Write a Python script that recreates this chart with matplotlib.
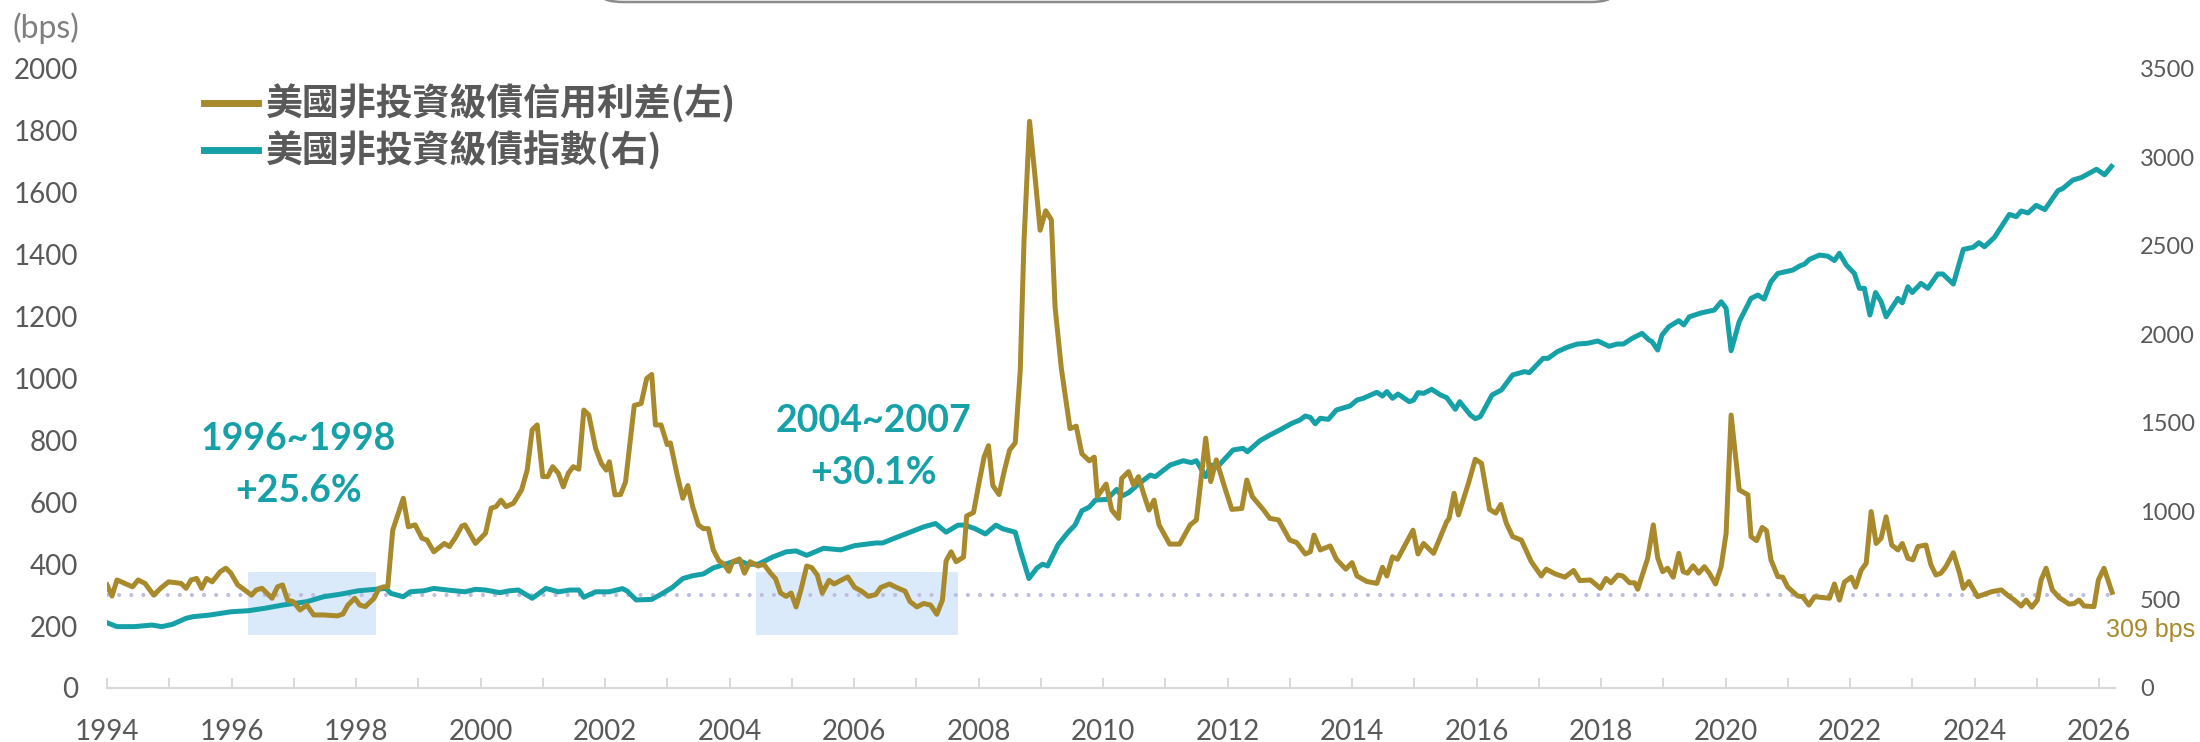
import numpy as np
import matplotlib

matplotlib.use("Agg")
import matplotlib.pyplot as plt
from matplotlib.patches import Rectangle, FancyBboxPatch

# --- data (decimal year, value) ---
spread_t = [
    1994.00, 1994.08, 1994.16, 1994.41, 1994.50, 1994.61, 1994.75, 1994.86, 1994.99, 1995.19,
    1995.27, 1995.35, 1995.44, 1995.52, 1995.60, 1995.69, 1995.82, 1995.91, 1995.99, 1996.10,
    1996.21, 1996.32, 1996.40, 1996.49, 1996.65, 1996.74, 1996.82, 1996.90, 1996.99, 1997.10,
    1997.21, 1997.32, 1997.48, 1997.70, 1997.79, 1997.87, 1997.98, 1998.06, 1998.15, 1998.29,
    1998.37, 1998.45, 1998.51, 1998.59, 1998.76, 1998.84, 1998.95, 1999.06, 1999.14, 1999.25,
    1999.42, 1999.50, 1999.59, 1999.70, 1999.75, 1999.92, 2000.08, 2000.17, 2000.25, 2000.33,
    2000.41, 2000.53, 2000.66, 2000.75, 2000.83, 2000.91, 2001.00, 2001.08, 2001.16, 2001.25,
    2001.33, 2001.41, 2001.49, 2001.58, 2001.66, 2001.74, 2001.85, 2001.94, 2002.02, 2002.07,
    2002.16, 2002.25, 2002.33, 2002.47, 2002.58, 2002.67, 2002.75, 2002.81, 2002.90, 2003.00,
    2003.05, 2003.16, 2003.25, 2003.33, 2003.41, 2003.50, 2003.58, 2003.66, 2003.74, 2003.83,
    2003.91, 2003.99, 2004.05, 2004.16, 2004.24, 2004.33, 2004.46, 2004.55, 2004.66, 2004.74,
    2004.82, 2004.91, 2004.99, 2005.07, 2005.15, 2005.24, 2005.32, 2005.41, 2005.49, 2005.60,
    2005.68, 2005.79, 2005.90, 2006.01, 2006.12, 2006.23, 2006.35, 2006.43, 2006.57, 2006.68,
    2006.82, 2006.90, 2007.01, 2007.12, 2007.23, 2007.33, 2007.42, 2007.48, 2007.56, 2007.64,
    2007.76, 2007.81, 2007.92, 2008.00, 2008.09, 2008.16, 2008.23, 2008.33, 2008.42, 2008.50,
    2008.59, 2008.67, 2008.73, 2008.82, 2008.90, 2008.99, 2009.08, 2009.17, 2009.23, 2009.33,
    2009.47, 2009.57, 2009.66, 2009.78, 2009.86, 2009.91, 2010.05, 2010.14, 2010.25, 2010.30,
    2010.41, 2010.49, 2010.57, 2010.65, 2010.74, 2010.82, 2010.90, 2011.07, 2011.23, 2011.40,
    2011.50, 2011.65, 2011.73, 2011.82, 2011.96, 2012.07, 2012.23, 2012.31, 2012.40, 2012.58,
    2012.68, 2012.82, 2013.00, 2013.11, 2013.25, 2013.33, 2013.39, 2013.49, 2013.65, 2013.75,
    2013.90, 2014.00, 2014.08, 2014.24, 2014.40, 2014.49, 2014.56, 2014.65, 2014.73, 2014.98,
    2015.06, 2015.15, 2015.31, 2015.52, 2015.56, 2015.64, 2015.71, 2015.87, 2015.98, 2016.08,
    2016.21, 2016.31, 2016.39, 2016.48, 2016.58, 2016.72, 2016.88, 2017.04, 2017.12, 2017.26,
    2017.42, 2017.56, 2017.66, 2017.83, 2017.99, 2018.08, 2018.16, 2018.27, 2018.35, 2018.46,
    2018.54, 2018.59, 2018.75, 2018.84, 2018.91, 2018.99, 2019.07, 2019.16, 2019.25, 2019.32,
    2019.39, 2019.48, 2019.57, 2019.66, 2019.74, 2019.84, 2019.93, 2020.01, 2020.09, 2020.22,
    2020.36, 2020.41, 2020.50, 2020.59, 2020.66, 2020.73, 2020.84, 2020.92, 2021.00, 2021.16,
    2021.24, 2021.34, 2021.43, 2021.67, 2021.75, 2021.83, 2021.91, 2022.02, 2022.09, 2022.18,
    2022.26, 2022.34, 2022.42, 2022.50, 2022.58, 2022.67, 2022.77, 2022.84, 2022.93, 2023.01,
    2023.09, 2023.22, 2023.30, 2023.38, 2023.46, 2023.54, 2023.66, 2023.76, 2023.82, 2023.91,
    2024.05, 2024.27, 2024.43, 2024.53, 2024.64, 2024.75, 2024.83, 2024.92, 2025.01, 2025.07,
    2025.15, 2025.25, 2025.36, 2025.52, 2025.60, 2025.68, 2025.76, 2025.92, 2025.99, 2026.08,
    2026.21,
]
spread_v = [
    333, 297, 349, 327, 349, 338, 300, 322, 343, 338,
    322, 349, 354, 322, 354, 343, 376, 387, 371, 333,
    317, 300, 317, 322, 290, 327, 333, 284, 279, 252,
    268, 236, 236, 233, 239, 268, 290, 268, 263, 290,
    322, 327, 327, 510, 613, 521, 527, 484, 478, 440,
    467, 457, 484, 523, 527, 467, 500, 581, 586, 607,
    586, 597, 640, 704, 834, 850, 683, 683, 715, 694,
    650, 694, 715, 707, 898, 882, 774, 726, 704, 731,
    624, 625, 666, 913, 919, 1000, 1013, 850, 850, 786,
    792, 688, 613, 654, 585, 527, 515, 515, 446, 411,
    400, 377, 408, 417, 371, 408, 394, 400, 371, 353,
    307, 296, 307, 262, 319, 394, 389, 365, 307, 348,
    336, 348, 359, 325, 313, 296, 302, 325, 336, 325,
    313, 279, 262, 273, 268, 238, 284, 411, 440, 408,
    423, 556, 567, 654, 746, 783, 654, 625, 706, 769,
    792, 1023, 1438, 1831, 1669, 1479, 1542, 1513, 1231, 1034,
    838, 846, 757, 734, 746, 619, 659, 575, 548, 677,
    699, 656, 683, 629, 575, 607, 527, 465, 465, 527,
    543, 807, 667, 737, 645, 577, 580, 672, 618, 575,
    548, 543, 478, 470, 433, 440, 494, 446, 459, 416,
    384, 405, 362, 344, 338, 390, 362, 424, 416, 510,
    433, 467, 435, 537, 548, 629, 559, 661, 739, 726,
    577, 565, 593, 532, 489, 478, 408, 362, 384, 369,
    358, 380, 347, 349, 322, 354, 340, 365, 362, 340,
    340, 319, 419, 527, 421, 376, 387, 358, 435, 376,
    371, 395, 371, 392, 371, 336, 392, 500, 882, 640,
    624, 489, 476, 519, 508, 414, 360, 358, 326, 297,
    295, 268, 295, 290, 336, 284, 342, 358, 326, 381,
    403, 570, 467, 484, 553, 462, 446, 467, 419, 414,
    457, 462, 398, 365, 371, 392, 437, 371, 322, 344,
    295, 311, 317, 300, 284, 265, 284, 261, 284, 349,
    387, 317, 292, 271, 273, 284, 265, 263, 349, 387,
    309,
]

index_t = [
    1994.00, 1994.16, 1994.44, 1994.72, 1994.88, 1995.05, 1995.27, 1995.38, 1995.66, 1995.99,
    1996.27, 1996.54, 1996.82, 1997.21, 1997.48, 1997.76, 1998.04, 1998.31, 1998.48, 1998.56,
    1998.76, 1998.87, 1999.09, 1999.25, 1999.47, 1999.75, 1999.92, 2000.08, 2000.31, 2000.47,
    2000.61, 2000.83, 2001.05, 2001.25, 2001.44, 2001.58, 2001.66, 2001.85, 2002.07, 2002.28,
    2002.36, 2002.50, 2002.75, 2002.89, 2003.08, 2003.25, 2003.41, 2003.58, 2003.74, 2004.02,
    2004.16, 2004.30, 2004.46, 2004.69, 2004.91, 2005.07, 2005.24, 2005.51, 2005.79, 2006.01,
    2006.35, 2006.46, 2006.68, 2006.90, 2007.12, 2007.31, 2007.48, 2007.67, 2007.78, 2007.95,
    2008.11, 2008.28, 2008.39, 2008.59, 2008.67, 2008.81, 2008.94, 2009.03, 2009.11, 2009.28,
    2009.44, 2009.55, 2009.66, 2009.78, 2009.88, 2010.06, 2010.22, 2010.30, 2010.41, 2010.57,
    2010.76, 2010.84, 2011.08, 2011.29, 2011.42, 2011.50, 2011.65, 2011.74, 2011.83, 2012.09,
    2012.25, 2012.32, 2012.52, 2012.68, 2012.84, 2013.03, 2013.16, 2013.25, 2013.33, 2013.41,
    2013.49, 2013.62, 2013.75, 2013.97, 2014.08, 2014.18, 2014.40, 2014.49, 2014.56, 2014.65,
    2014.74, 2014.92, 2014.99, 2015.06, 2015.15, 2015.28, 2015.42, 2015.52, 2015.66, 2015.73,
    2015.90, 2015.98, 2016.06, 2016.25, 2016.40, 2016.58, 2016.77, 2016.85, 2017.07, 2017.15,
    2017.30, 2017.46, 2017.62, 2017.78, 2017.95, 2018.13, 2018.26, 2018.36, 2018.50, 2018.66,
    2018.77, 2018.82, 2018.91, 2018.98, 2019.09, 2019.25, 2019.33, 2019.42, 2019.61, 2019.82,
    2019.93, 2020.01, 2020.09, 2020.22, 2020.41, 2020.52, 2020.62, 2020.73, 2020.84, 2021.08,
    2021.19, 2021.27, 2021.35, 2021.51, 2021.64, 2021.75, 2021.83, 2021.94, 2022.07, 2022.15,
    2022.23, 2022.32, 2022.41, 2022.50, 2022.58, 2022.77, 2022.84, 2022.93, 2023.00, 2023.14,
    2023.25, 2023.41, 2023.49, 2023.66, 2023.82, 2023.98, 2024.07, 2024.16, 2024.32, 2024.56,
    2024.67, 2024.75, 2024.86, 2024.99, 2025.13, 2025.34, 2025.42, 2025.58, 2025.72, 2025.96,
    2026.09, 2026.20,
]
index_v = [
    369, 347, 347, 356, 347, 360, 394, 403, 413, 431,
    437, 451, 469, 488, 516, 531, 550, 558, 563, 535,
    516, 544, 550, 563, 554, 544, 558, 554, 539, 550,
    554, 507, 563, 544, 554, 554, 513, 544, 544, 562,
    547, 498, 501, 528, 568, 619, 635, 645, 679, 710,
    719, 700, 700, 740, 770, 775, 750, 790, 781, 805,
    820, 820, 851, 881, 911, 930, 881, 921, 921, 900,
    871, 921, 900, 881, 780, 619, 679, 700, 690, 811,
    881, 921, 1002, 1023, 1063, 1066, 1123, 1085, 1104, 1153,
    1204, 1195, 1261, 1285, 1274, 1285, 1195, 1261, 1247, 1346,
    1355, 1336, 1398, 1430, 1459, 1496, 1515, 1538, 1530, 1494,
    1525, 1519, 1572, 1595, 1628, 1638, 1672, 1651, 1676, 1638,
    1662, 1619, 1628, 1670, 1666, 1689, 1657, 1642, 1576, 1619,
    1544, 1523, 1534, 1657, 1685, 1770, 1789, 1783, 1864, 1864,
    1902, 1927, 1945, 1949, 1962, 1932, 1945, 1945, 1977, 2005,
    1968, 1958, 1911, 1996, 2043, 2077, 2053, 2099, 2121, 2137,
    2184, 2147, 1907, 2071, 2203, 2222, 2199, 2297, 2344, 2363,
    2386, 2397, 2424, 2448, 2442, 2417, 2458, 2392, 2344, 2260,
    2260, 2109, 2236, 2184, 2099, 2203, 2178, 2269, 2236, 2288,
    2260, 2341, 2341, 2284, 2480, 2492, 2518, 2495, 2548, 2678,
    2665, 2697, 2686, 2729, 2705, 2812, 2825, 2872, 2887, 2933,
    2902, 2949,
]

# periods highlighted on the chart (start, end) and their labels
periods = [(1996.27, 1998.32), (2004.43, 2007.67)]
period_years = ["1996~1998", "2004~2007"]
period_gains = ["+25.6%", "+30.1%"]
period_label_x = [1997.08, 2006.31]
period_label_y = [(805, 636), (863, 695)]
ref_level = 300
last_label = "309 bps"

spread_name = "美國非投資級債信用利差(左)"
index_name = "美國非投資級債指數(右)"

GOLD = "#A8892C"
TEAL = "#15A1A7"
GREY = "#595959"
AXIS_GREY = "#D9D9D9"
DOT = "#BDBDDD"
BOX = "#DAEAFB"

W, H = 2200, 742
fig = plt.figure(figsize=(W / 100, H / 100), dpi=100)
ax = fig.add_axes([107 / W, 1 - 688 / H, (2115 - 107) / W, (688 - 69) / H])
ax2 = ax.twinx()

ax.set_xlim(1994, 1994 + (2115 - 107) / 62.25)
ax.set_ylim(0, 2000)
ax2.set_ylim(0, 3500)

# shaded boxes and the dotted level sit below both lines, so draw them on the
# lower (right-axis) layer while keeping left-axis (bps) coordinates
for (x0, x1) in periods:
    ax2.add_patch(Rectangle((x0, 171), x1 - x0, 204, transform=ax.transData,
                            facecolor=BOX, edgecolor="none", zorder=0))
ax2.plot([1994, 2026.17], [ref_level, ref_level], transform=ax.transData, color=DOT,
         lw=3.0, ls=(0, (0.01, 2.9)), dash_capstyle="round", zorder=1)

ln1, = ax.plot(spread_t, spread_v, color=GOLD, lw=3.6, zorder=3, solid_joinstyle="round")
ln2, = ax2.plot(index_t, index_v, color=TEAL, lw=3.6, zorder=3, solid_joinstyle="round")
ax.set_zorder(ax2.get_zorder() + 1)
ax.patch.set_visible(False)

for s in ["top", "left", "right"]:
    ax.spines[s].set_visible(False)
    ax2.spines[s].set_visible(False)
ax2.spines["bottom"].set_visible(False)
ax.spines["bottom"].set_color(AXIS_GREY)
ax.spines["bottom"].set_linewidth(1.6)

years = np.arange(1994, 2027)
ax.set_xticks(years)
ax.set_xticklabels([str(y) if y % 2 == 0 else "" for y in years])
ax.tick_params(axis="x", direction="in", length=7, width=1.4, color=AXIS_GREY,
               pad=22, labelsize=20, labelcolor=GREY)
ax.set_yticks(np.arange(0, 2001, 200))
ax.tick_params(axis="y", length=0, pad=21, labelsize=20, labelcolor=GREY)
ax2.set_yticks(np.arange(0, 3501, 500))
ax2.tick_params(axis="y", length=0, pad=18, labelsize=17, labelcolor=GREY)
for lab in ax.get_xticklabels() + ax.get_yticklabels() + ax2.get_yticklabels():
    lab.set_fontfamily("Lato")

fig.text(13 / W, 1 - 28 / H, "(bps)", fontsize=23, color="#7F7F7F", family="Lato",
         ha="left", va="center")

for x, (y1, y2), t1, t2 in zip(period_label_x, period_label_y, period_years, period_gains):
    ax.text(x, y1, t1, color=TEAL, fontsize=27, fontweight="bold", family="Lato",
            ha="center", va="center")
    ax.text(x, y2, t2, color=TEAL, fontsize=27, fontweight="bold", family="Lato",
            ha="center", va="center")

fig.text(2151 / W, 1 - 630 / H, last_label, color=GOLD, fontsize=18,
         family="Liberation Sans", ha="center", va="center")

leg = fig.legend([ln1, ln2], [spread_name, index_name], loc="upper left",
                 bbox_to_anchor=(186 / W, 1 - 66 / H), frameon=False, borderpad=0,
                 handlelength=1.46, handletextpad=0.2, labelspacing=0.22,
                 prop={"family": ["Noto Sans CJK TC", "DejaVu Sans"], "weight": "bold", "size": 26.6})
for t in leg.get_texts():
    t.set_color(GREY)
for h in leg.legend_handles:
    h.set_linewidth(5)

# grey rounded box cut off at the top of the picture
fig.patches.append(FancyBboxPatch((602 / W, 1 - 2 / H), (1612 - 602) / W, 60 / H,
                                  boxstyle="round,pad=0,rounding_size=0.01",
                                  transform=fig.transFigure, facecolor="white",
                                  edgecolor="#8C8C8C", lw=1.8))

fig.savefig("out.png", dpi=100)
